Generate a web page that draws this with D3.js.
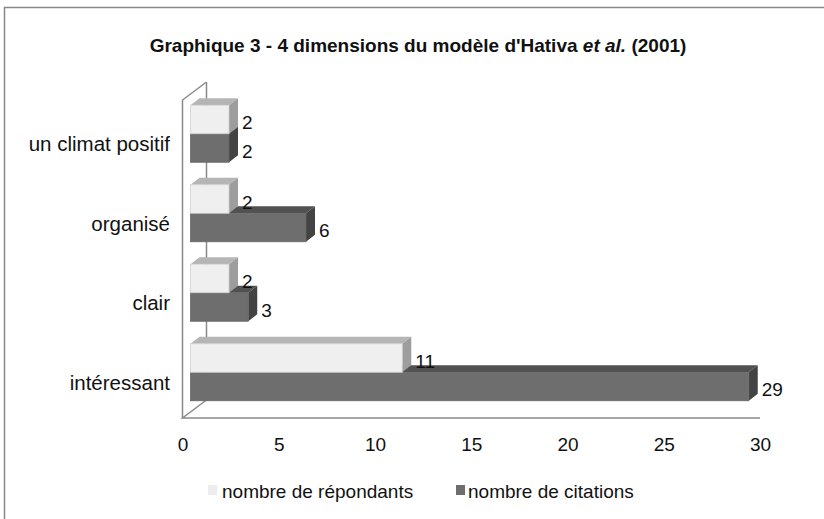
<!DOCTYPE html>
<html>
<head>
<meta charset="utf-8">
<script src="https://cdn.jsdelivr.net/npm/d3@7"></script>
<style>
  body { margin: 0; background: #fff; }
  svg text { font-family: "Liberation Sans", Arial, sans-serif; fill: #111; }
</style>
</head>
<body>
<svg id="chart" width="824" height="519"></svg>
<script>
const categories = ["un climat positif", "organisé", "clair", "intéressant"];
const series = ["nombre de répondants", "nombre de citations"];
const repondants = [2, 2, 2, 11];
const citations = [2, 6, 3, 29];
const xTicks = [0, 5, 10, 15, 20, 25, 30];

const colors = {
  "nombre de répondants": {front: "#efefef", top: "#b5b5b5", side: "#9d9d9d", stroke: "#d0d0d0", key: "#ececec"},
  "nombre de citations": {front: "#6e6e6e", top: "#515151", side: "#434343", stroke: "#666", key: "#6e6e6e"}
};

const rows = categories.map((c, i) => ({
  category: c,
  values: {"nombre de répondants": repondants[i], "nombre de citations": citations[i]}
}));

const svg = d3.select("#chart");

// outer frame (only top and left visible)
svg.append("path")
  .attr("d", "M4.5,519 L4.5,7.5 L824,7.5")
  .attr("fill", "none").attr("stroke", "#888").attr("stroke-width", 1.5);

// title
const title = svg.append("text")
  .attr("x", 418).attr("y", 52)
  .attr("text-anchor", "middle")
  .style("font-size", "19px").style("font-weight", "bold");
title.append("tspan").text("Graphique 3 - 4 dimensions du modèle d'Hativa ");
title.append("tspan").style("font-style", "italic").text("et al.");
title.append("tspan").text(" (2001)");

// scales (front plane)
const x = d3.scaleLinear().domain([0, 30]).range([182.5, 760]);
const yCat = d3.scaleBand().domain(categories).range([100, 418]);
const pairH = 57;
const ySer = d3.scaleBand().domain(series).range([0, pairH]);

// 3D offsets
const wallDx = 24, wallDy = -18;   // full depth of the plot
const barOffX = 8, barOffY = -6;   // bars sit in the middle of the depth
const depX = 9, depY = -7;         // depth of a bar

// walls / floor
const axisColor = "#8a8a8a";
const frame = svg.append("g").attr("fill", "none").attr("stroke", axisColor).attr("stroke-width", 1.5);
frame.append("line")
  .attr("x1", x(0) + wallDx).attr("y1", 100 + wallDy)
  .attr("x2", x(0) + wallDx).attr("y2", 418 + wallDy);
frame.append("path")
  .attr("d", `M${x(0)},418 L${x(0)},100 L${x(0) + wallDx},${100 + wallDy}`);
frame.append("path")
  .attr("d", `M${x(0) + wallDx},${418 + wallDy} L${x(0)},418 L${x(30)},418`);

// x axis labels
const xAxis = svg.append("g")
  .attr("transform", "translate(0,418)")
  .call(d3.axisBottom(x).tickValues(xTicks).tickSize(0).tickPadding(20).tickFormat(d3.format("d")));
xAxis.select(".domain").remove();
xAxis.selectAll("text")
  .style("font-size", "19px")
  .style("font-family", "Liberation Sans, Arial, sans-serif")
  .attr("fill", "#111");

// category labels
svg.append("g").selectAll("text")
  .data(categories)
  .join("text")
  .attr("x", 170)
  .attr("y", d => yCat(d) + yCat.bandwidth() / 2 + 4)
  .attr("text-anchor", "end")
  .attr("dominant-baseline", "central")
  .style("font-size", "20.5px")
  .text(d => d);

// bars
const xb = v => x(v) + barOffX;
const barTop = (c, s) => yCat(c) + (yCat.bandwidth() - pairH) / 2 + ySer(s) + barOffY;
const bars = svg.append("g");
rows.forEach(row => {
  series.slice().reverse().forEach(s => {
    const v = row.values[s];
    const x0 = xb(0), x1 = xb(v);
    const y0 = barTop(row.category, s), y1 = y0 + ySer.bandwidth();
    const col = colors[s];
    const g = bars.append("g");
    g.append("polygon")
      .attr("points", [[x0, y0], [x1, y0], [x1 + depX, y0 + depY], [x0 + depX, y0 + depY]].join(" "))
      .attr("fill", col.top);
    g.append("polygon")
      .attr("points", [[x1, y0], [x1 + depX, y0 + depY], [x1 + depX, y1 + depY], [x1, y1]].join(" "))
      .attr("fill", col.side);
    g.append("rect")
      .attr("x", x0).attr("y", y0)
      .attr("width", x1 - x0).attr("height", y1 - y0)
      .attr("fill", col.front)
      .attr("stroke", col.stroke).attr("stroke-width", 0.8);
  });
});

// value labels
const labels = svg.append("g");
rows.forEach(row => {
  series.forEach(s => {
    const v = row.values[s];
    labels.append("text")
      .attr("x", xb(v) + depX + 4)
      .attr("y", barTop(row.category, s) + ySer.bandwidth() / 2 + 3)
      .attr("dominant-baseline", "central")
      .style("font-size", "19px")
      .text(v);
  });
});

// legend
const legend = svg.append("g");
const legendPos = [{x: 208, tx: 222}, {x: 456, tx: 468}];
series.forEach((s, i) => {
  legend.append("rect")
    .attr("x", legendPos[i].x).attr("y", 485)
    .attr("width", 9).attr("height", 10)
    .attr("fill", colors[s].key);
  legend.append("text")
    .attr("x", legendPos[i].tx).attr("y", 491)
    .attr("dominant-baseline", "central")
    .style("font-size", "19px")
    .text(s);
});
</script>
</body>
</html>
